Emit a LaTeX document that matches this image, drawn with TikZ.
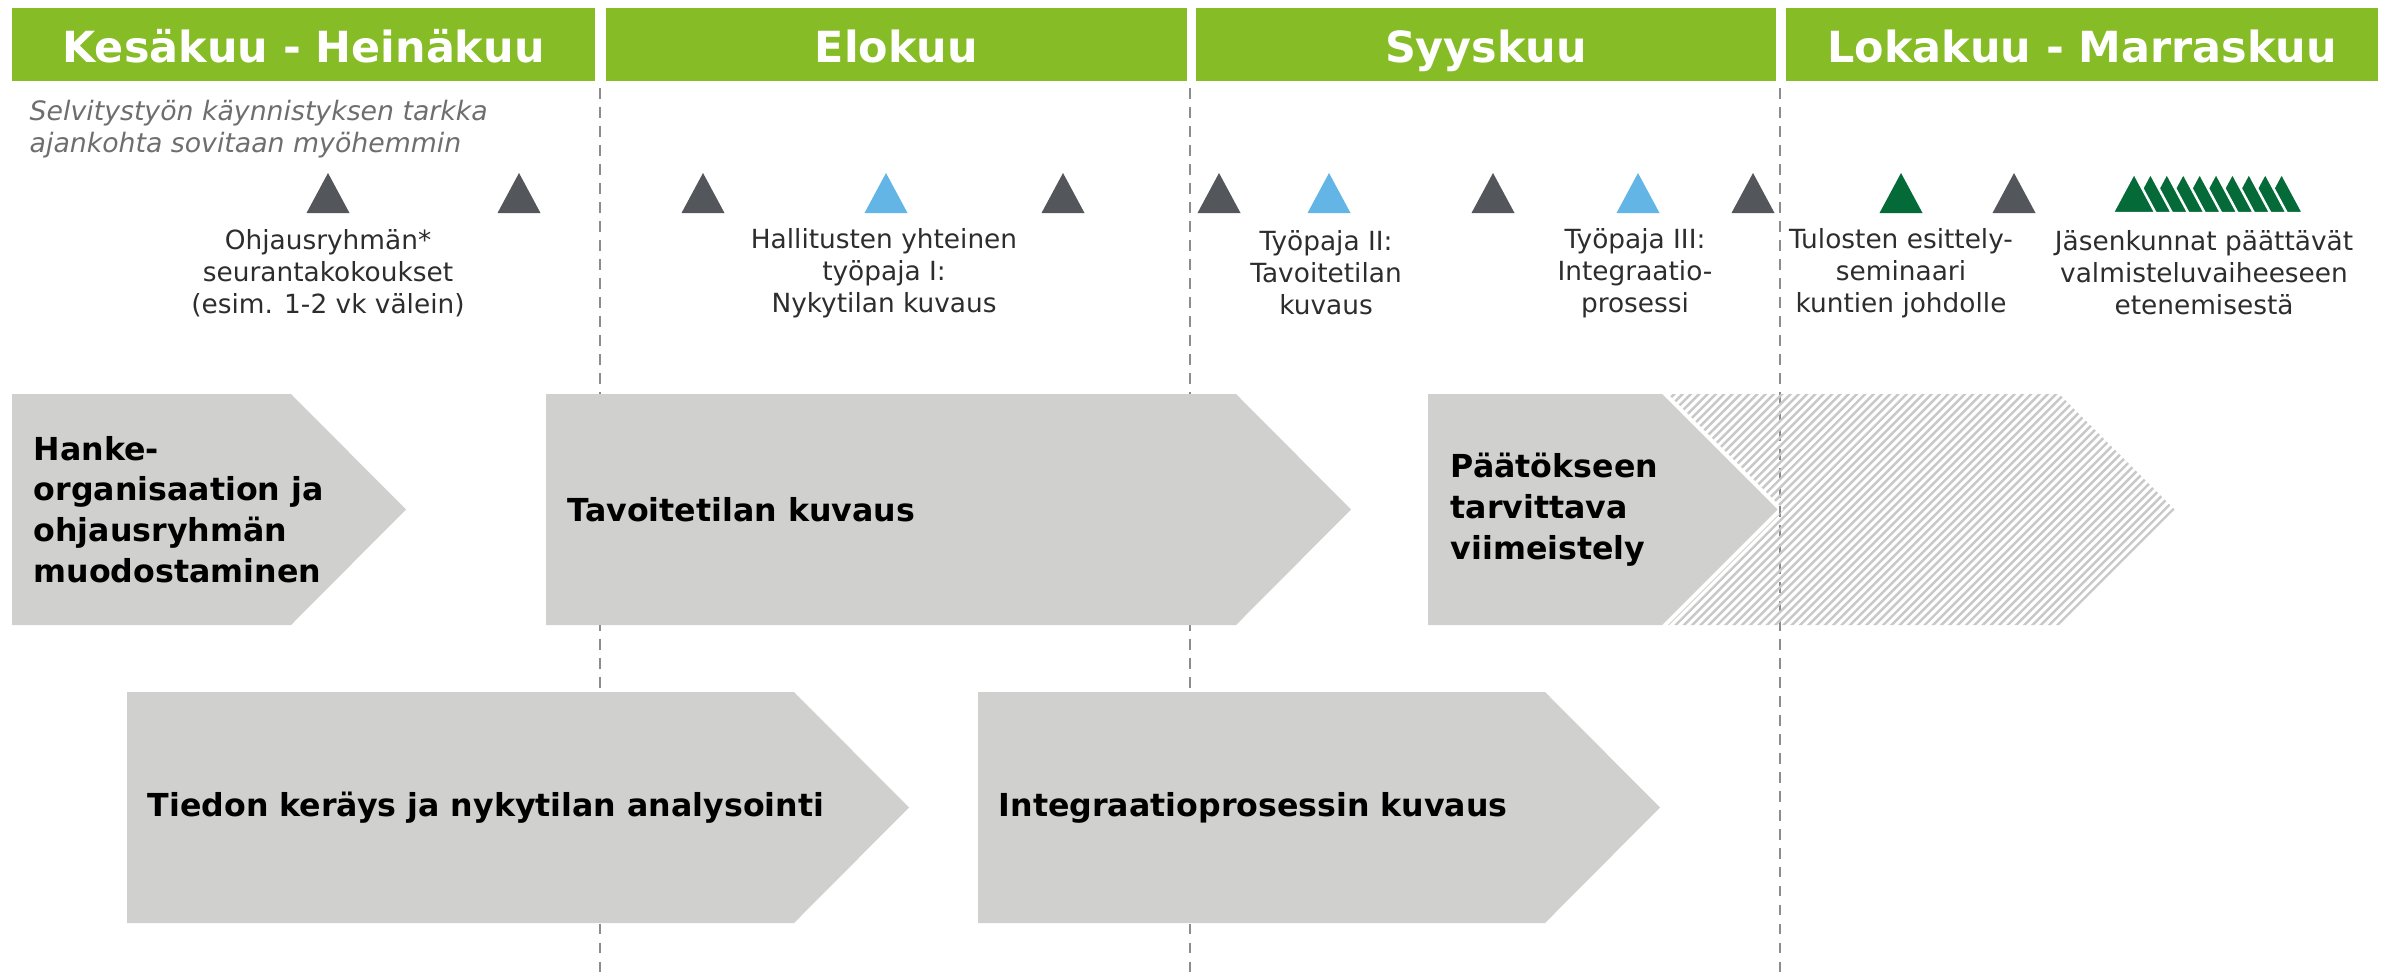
\documentclass[tikz,border=0pt]{standalone}
\usepackage{fontspec}
\setmainfont{DejaVu Sans}
\definecolor{hdrgreen}{RGB}{134,188,37}
\definecolor{chevgray}{RGB}{208,208,206}
\definecolor{hatchgray}{RGB}{200,200,200}
\definecolor{tridark}{RGB}{83,86,90}
\definecolor{triblue}{RGB}{98,181,229}
\definecolor{trigreen}{RGB}{4,106,56}
\definecolor{dashgray}{RGB}{140,140,140}
\definecolor{notegray}{RGB}{110,110,110}
\definecolor{labelgray}{RGB}{45,45,45}
\newcommand\mstri[3]{\fill[#2] ({#1-21.5},213) -- (#1,173) -- ({#1+21.5},213) -- cycle; \coordinate (#3) at (#1,213);}
\begin{document}
\begin{tikzpicture}[x=0.01cm,y=-0.01cm,
  hdrbar/.style={fill=hdrgreen},
  hdrtext/.style={text=white,font=\fontsize{12.2}{14}\selectfont\bfseries,inner sep=0,anchor=base},
  divider/.style={draw=dashgray,line width=0.75pt,dash pattern=on 3.1pt off 2.3pt},
  chev/.style={fill=chevgray},
  hatchline/.style={draw=hatchgray,line width=0.7pt},
  chevtext/.style={font=\fontsize{9}{11.6}\selectfont\bfseries,anchor=west,align=left,inner sep=0},
  mslabel/.style={font=\fontsize{7.5}{9.1}\selectfont,text=labelgray,align=center,inner sep=0},
  notetext/.style={font=\fontsize{7.6}{9.1}\selectfont\itshape,text=notegray,align=left,anchor=west,inner sep=0},
  clustertri/.style={fill=trigreen,draw=white,line width=0.7pt}
]
\useasboundingbox (0,0) rectangle (2392,973);

% dashed month dividers
\coordinate (d1t) at (600,88);  \coordinate (d1b) at (600,973);
\coordinate (d2t) at (1190,88); \coordinate (d2b) at (1190,973);
\coordinate (d3t) at (1780,88); \coordinate (d3b) at (1780,973);
\draw[divider] (d1t) -- (d1b);
\draw[divider] (d2t) -- (d2b);
\draw[divider] (d3t) -- (d3b);

% header bars
\fill[hdrbar] (12,8) rectangle (595,81);
\fill[hdrbar] (606,8) rectangle (1187,81);
\fill[hdrbar] (1196,8) rectangle (1776,81);
\fill[hdrbar] (1786,8) rectangle (2378,81);
\node[hdrtext] (h1) at (303.5,63) {Kesäkuu - Heinäkuu};
\node[hdrtext] (h2) at (896.5,63) {Elokuu};
\node[hdrtext] (h3) at (1486,63) {Syyskuu};
\node[hdrtext] (h4) at (2082,63) {Lokakuu - Marraskuu};

% note
\node[notetext] (note) at (29,129) {Selvitystyön käynnistyksen tarkka\\ajankohta sovitaan myöhemmin};

% milestone triangles
\mstri{328}{tridark}{t1}
\mstri{519}{tridark}{t2}
\mstri{703}{tridark}{t3}
\mstri{886}{triblue}{t4}
\mstri{1063}{tridark}{t5}
\mstri{1219}{tridark}{t6}
\mstri{1329}{triblue}{t7}
\mstri{1493}{tridark}{t8}
\mstri{1638}{triblue}{t9}
\mstri{1753}{tridark}{t10}
\mstri{1901}{trigreen}{t11}
\mstri{2014}{tridark}{t12}
\foreach \k in {9,8,...,0}{
  \filldraw[clustertri] ({2134+16.4*\k-21.5},213) -- ({2134+16.4*\k},173) -- ({2134+16.4*\k+21.5},213) -- cycle;
}

% milestone labels
\node[mslabel] (l1) at (328,273) {Ohjausryhmän*\\seurantakokoukset\\(esim. 1-2 vk välein)};
\node[mslabel] (l2) at (884,273) {Hallitusten yhteinen\\työpaja I:\\Nykytilan kuvaus};
\node[mslabel] (l3) at (1326,273) {Työpaja II:\\Tavoitetilan\\kuvaus};
\node[mslabel] (l4) at (1635,273) {Työpaja III:\\Integraatio-\\prosessi};
\node[mslabel] (l5) at (1901,273) {Tulosten esittely-\\seminaari\\kuntien johdolle};
\node[mslabel] (l6) at (2204,273) {Jäsenkunnat päättävät\\valmisteluvaiheeseen\\etenemisestä};

% chevrons
\fill[chev] (12,394) -- (291,394) -- (406,509.5) -- (291,625) -- (12,625) -- cycle;
\fill[chev] (546,394) -- (1236,394) -- (1351,509.5) -- (1236,625) -- (546,625) -- cycle;
\fill[chev] (127,692) -- (794,692) -- (909,807.5) -- (794,923) -- (127,923) -- cycle;
\fill[chev] (978,692) -- (1545,692) -- (1660,807.5) -- (1545,923) -- (978,923) -- cycle;
\fill[chev] (1428,394) -- (1662,394) -- (1777.5,509.5) -- (1662,625) -- (1428,625) -- cycle;
\begin{scope}
  \clip (1668,394) -- (2059,394) -- (2174.5,509.5) -- (2059,625) -- (1668,625) -- (1783.5,509.5) -- cycle;
  \foreach \i in {0,...,92}{
    \draw[hatchline] ({1430+8.3*\i},630) -- ({1430+8.3*\i+240},390);
  }
\end{scope}

% chevron texts
\node[chevtext] (c1) at (33,509.5) {Hanke-\\organisaation ja\\ohjausryhmän\\muodostaminen};
\node[chevtext] (c2) at (567,509.5) {Tavoitetilan kuvaus};
\node[chevtext] (c3) at (147,807.5) {Tiedon keräys ja nykytilan analysointi};
\node[chevtext] (c4) at (998,807.5) {Integraatioprosessin kuvaus};
\node[chevtext] (c5) at (1450,509.5) {Päätökseen\\tarvittava\\viimeistely};
\end{tikzpicture}
\end{document}
